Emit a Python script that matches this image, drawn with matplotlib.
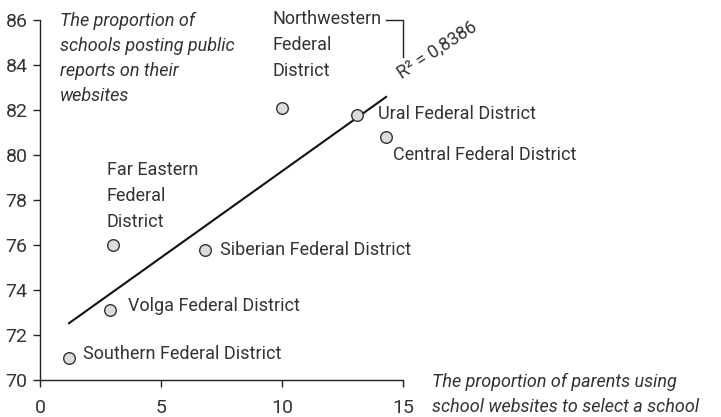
import numpy as np
import matplotlib
matplotlib.use("Agg")
import matplotlib.pyplot as plt
from matplotlib import font_manager

names = {f.name for f in font_manager.fontManager.ttflist}
fam = [n for n in ["Roboto", "DejaVu Sans"] if n in names]
plt.rcParams['font.family'] = fam

districts = ["Southern Federal District", "Volga Federal District", "Far Eastern\nFederal\nDistrict",
             "Siberian Federal District", "Northwestern\nFederal\nDistrict", "Ural Federal District",
             "Central Federal District"]
parents_pct = [1.2, 2.9, 3.0, 6.8, 10.0, 13.1, 14.3]
schools_pct = [71.0, 73.1, 76.0, 75.8, 82.1, 81.8, 80.8]
x_ticks = [0, 5, 10, 15]
y_ticks = [70, 72, 74, 76, 78, 80, 82, 84, 86]
r2_label = "R² = 0,8386"

TXT = "#333333"
fig = plt.figure(figsize=(7.21, 4.17), dpi=100)
ax = fig.add_axes([40/721, 37/417, 363/721, 360/417])
ax.set_xlim(0, 15)
ax.set_ylim(70, 86)
for s in ["top", "right"]:
    ax.spines[s].set_visible(False)
for s in ["left", "bottom"]:
    ax.spines[s].set_color("#222222")
    ax.spines[s].set_linewidth(1.0)
ax.set_xticks(x_ticks)
ax.set_yticks(y_ticks)
ax.tick_params(direction="out", length=5, width=1, colors="#222222", labelcolor=TXT, labelsize=14, pad=4)
ax.tick_params(axis="x", pad=9)

x = np.array(parents_pct)
y = np.array(schools_pct)
k, b = np.polyfit(x, y, 1)
xl = np.array([x.min(), x.max()])
ax.plot(xl, k*xl + b, color="#111111", lw=1.5, zorder=2, clip_on=False)
ax.scatter(x, y, s=70, facecolor="#dcdcdc", edgecolor="#333333", linewidth=1.0, zorder=3, clip_on=False)

def px(xp, yp):
    return (xp-40)/24.2, 70+(380-yp)/22.5

fs = 13
offsets = {
    0: (83, 354),
    1: (128, 306),
    2: (107, 196),
    3: (220, 250),
    4: (272, 45),
    5: (378, 114),
    6: (393, 155),
}
for i, name in enumerate(districts):
    xp, yp = offsets[i]
    ax.text(*px(xp, yp), name, ha="left", va="center", fontsize=fs, color=TXT, linespacing=1.55, clip_on=False)

ax.text(*px(60, 58), "The proportion of\nschools posting public\nreports on their\nwebsites",
        ha="left", va="center", fontsize=fs, style="italic", color=TXT, linespacing=1.5, clip_on=False)
ax.text(*px(432, 394), "The proportion of parents using\nschool websites to select a school",
        ha="left", va="center", fontsize=fs, style="italic", color=TXT, linespacing=1.5, clip_on=False)

ax.text(*px(437, 50), r2_label, ha="center", va="center", rotation=33, fontsize=fs, color=TXT, clip_on=False)
lx = [px(386, 20)[0], px(403, 20)[0], px(403, 57)[0]]
ly = [px(386, 20)[1], px(403, 20)[1], px(403, 57)[1]]
ax.plot(lx, ly, color="#222222", lw=1, clip_on=False)

fig.savefig("out.png", dpi=100)
